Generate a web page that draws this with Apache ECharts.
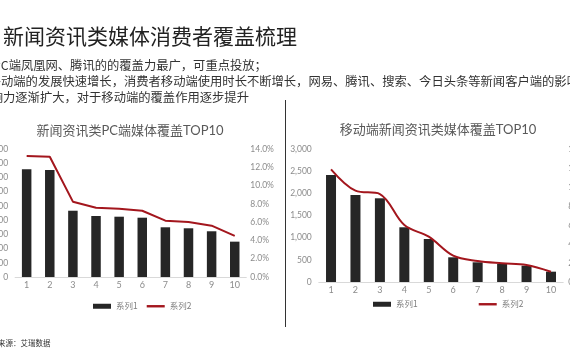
<!DOCTYPE html>
<html><head><meta charset="utf-8">
<script src="https://cdn.jsdelivr.net/npm/echarts@6/dist/echarts.min.js"></script>
<style>html,body{margin:0;padding:0;background:#fff;}#c{width:570px;height:360px;}</style>
</head><body><div id="c"></div>
<script>
// ---- data ----
const categories = ['1','2','3','4','5','6','7','8','9','10'];
const pcCoverage = [1515,1505,932,858,848,834,699,685,643,497];
const pcShare = [13.24,13.16,8.24,7.58,7.47,7.25,6.16,6.02,5.61,4.49];
const mobileCoverage = [2413,1963,1888,1234,970,557,444,406,368,233];
const mobileShare = [11.86,9.61,9.26,6.00,4.77,2.77,2.21,1.97,1.79,1.08];
const seriesNames = ['系列1','系列2'];
const chartTitles = ['新闻资讯类PC端媒体覆盖TOP10','移动端新闻资讯类媒体覆盖TOP10'];
const pageTitle = '新闻资讯类媒体消费者覆盖梳理';
const bodyLines = [
  'PC端凤凰网、腾讯的的覆盖力最广，可重点投放；',
  '移动端的发展快速增长，消费者移动端使用时长不断增长，网易、腾讯、搜索、今日头条等新闻客户端的影响',
  '响力逐渐扩大，对于移动端的覆盖作用逐步提升'
];
const sourceText = '来源：艾瑞数据';

// ---- chart ----
const chart = echarts.init(document.getElementById('c'));
const LAT = 'Lato, "Noto Sans CJK SC", sans-serif';
const CJK = '"Noto Sans CJK SC", sans-serif';
const GRAY = '#8c8c8c';
const BAR = '#262626';
const RED = '#a3161d';

function txt(text, x, y, size, color, align) {
  return {type:'text', x:x, y:y, silent:true,
    style:{text:text, fontSize:size, fontFamily:CJK, fill:color,
      textAlign:align||'left', align:align||'left', textVerticalAlign:'middle', verticalAlign:'middle'}};
}
function ctitle(text, x, y) {
  return {type:'text', x:x, y:y, silent:true,
    style:{text:text, fontSize:13, fontFamily:LAT, fill:'#595959',
      textAlign:'center', align:'center', textVerticalAlign:'middle', verticalAlign:'middle'}};
}
const pct = v => v.toFixed(1) + '%';
const thous = v => v.toLocaleString('en-US');

const legendText = {fontSize:8.5, color:'#7f7f7f', fontFamily:CJK};
const legendData = [{name:seriesNames[0], icon:'rect'},{name:seriesNames[1], icon:'path://M0,0H18V2.4H0Z'}];

const valAxis = (gi, pos, min, max, interval, fmt, margin) => ({
  type:'value', gridIndex:gi, position:pos, min:min, max:max, interval:interval,
  axisLine:{show:false}, axisTick:{show:false}, splitLine:{show:false},
  axisLabel:{color:GRAY, fontSize:8.5, fontFamily:LAT, formatter:fmt, margin:margin}
});
const catAxis = gi => ({
  type:'category', gridIndex:gi, data:categories,
  axisLine:{lineStyle:{color:'#d9d9d9', width:1}}, axisTick:{show:false},
  axisLabel:{color:GRAY, fontSize:9, fontFamily:LAT, margin:4}
});

chart.setOption({
  animation:false,
  graphic:[
    txt(pageTitle, 3, 36, 21, '#222'),
    txt(bodyLines[0], -7, 65, 12.3, '#333'),
    txt(bodyLines[1], -11.3, 81, 12.3, '#333'),
    txt(bodyLines[2], -9.3, 97, 12.3, '#333'),
    txt(sourceText, -2, 343, 7.5, '#333'),
    ctitle(chartTitles[0], 130, 131),
    ctitle(chartTitles[1], 438, 130),
    {type:'line', silent:true, shape:{x1:285.5, y1:100, x2:285.5, y2:327}, style:{stroke:'#333', lineWidth:1}}
  ],
  legend:[
    {left:88, top:297, itemWidth:18, itemHeight:5, itemGap:9, textStyle:legendText, data:legendData, selectedMode:false},
    {left:368, top:295, itemWidth:18, itemHeight:5, itemGap:61, textStyle:legendText, data:legendData, selectedMode:false}
  ],
  grid:[
    {left:15.1, right:570-246.3, top:149, bottom:360-277, containLabel:false, outerBoundsMode:'none'},
    {left:318.8, right:570-563.2, top:149, bottom:360-282, containLabel:false, outerBoundsMode:'none'}
  ],
  xAxis:[catAxis(0), catAxis(1)],
  yAxis:[
    valAxis(0,'left',0,1800,200,thous,7),
    valAxis(0,'right',0,14,2,pct,4),
    valAxis(1,'left',0,3000,500,thous,7),
    valAxis(1,'right',0,14,2,pct,5)
  ],
  series:[
    {name:seriesNames[0], type:'bar', xAxisIndex:0, yAxisIndex:0, data:pcCoverage, barWidth:9.5, color:BAR, itemStyle:{color:BAR}},
    {name:seriesNames[1], type:'line', xAxisIndex:0, yAxisIndex:1, data:pcShare, symbol:'none', color:RED, lineStyle:{color:RED, width:2}},
    {name:seriesNames[0], type:'bar', xAxisIndex:1, yAxisIndex:2, data:mobileCoverage, barWidth:10, color:BAR, itemStyle:{color:BAR}},
    {name:seriesNames[1], type:'line', xAxisIndex:1, yAxisIndex:3, data:mobileShare, symbol:'none', smooth:0.35, color:RED, lineStyle:{color:RED, width:2}}
  ]
});
</script></body></html>
